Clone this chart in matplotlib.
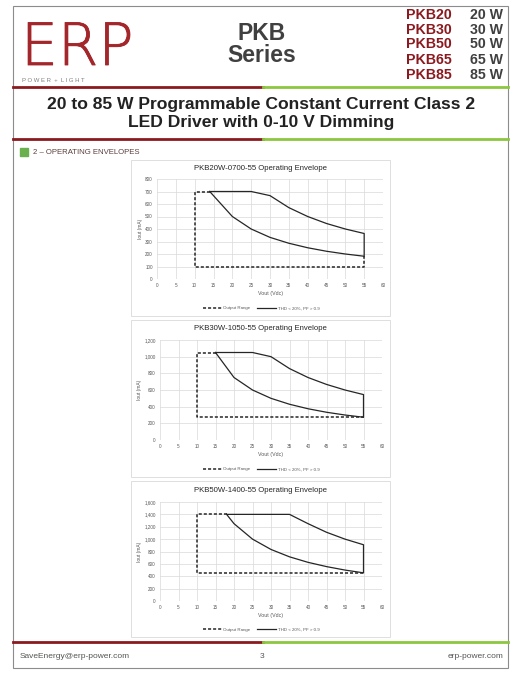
import matplotlib
matplotlib.use("Agg")
import matplotlib.pyplot as plt
import matplotlib.patches as patches
import matplotlib.patheffects as pe
from matplotlib.lines import Line2D
from matplotlib.ticker import FuncFormatter, MultipleLocator

plt.rcParams['font.family'] = ['Liberation Sans', 'DejaVu Sans']

W, H = 522, 676
RED = '#8b1a1f'
GREEN = '#8dc63f'
GRAY_TXT = '#595959'

# header data
models = ["PKB20", "PKB30", "PKB50", "PKB65", "PKB85"]
watts = ["20 W", "30 W", "50 W", "65 W", "85 W"]

# chart data
titles = ["PKB20W-0700-55 Operating Envelope",
          "PKB30W-1050-55 Operating Envelope",
          "PKB50W-1400-55 Operating Envelope"]

range_v_20 = [14, 10, 10, 55, 55]
range_i_20 = [700, 700, 100, 100, 182]
env_v_20 = [14, 20, 25, 30, 35, 40, 45, 50, 55, 55, 50, 45, 40, 35, 30, 25, 14]
env_i_20 = [700, 500, 400, 333, 286, 250, 222, 200, 182, 364, 400, 444, 500, 571, 667, 700, 700]

range_v_30 = [15, 10, 10, 55, 55]
range_i_30 = [1050, 1050, 273, 273, 273]
env_v_30 = [15, 20, 25, 30, 35, 40, 45, 50, 55, 55, 50, 45, 40, 35, 30, 25, 15]
env_i_30 = [1050, 750, 600, 500, 429, 375, 333, 300, 273, 545, 600, 667, 750, 857, 1000, 1050, 1050]

range_v_50 = [18, 10, 10, 55, 55]
range_i_50 = [1400, 1400, 455, 455, 455]
env_v_50 = [18, 20, 25, 30, 35, 40, 45, 50, 55, 55, 50, 45, 40, 35, 18]
env_i_50 = [1400, 1250, 1000, 833, 714, 625, 556, 500, 455, 909, 1000, 1111, 1250, 1400, 1400]

y_max = [800, 1200, 1600]
y_step = [100, 200, 200]
x_ticks = list(range(0, 61, 5))


def fx(x):
    return x / W


def fy(y):
    return 1 - y / H


fig = plt.figure(figsize=(W / 100, H / 100), dpi=100)

# page frame
fig.add_artist(patches.Rectangle((fx(13), fy(668)), fx(508) - fx(13), fy(6) - fy(668),
                                 transform=fig.transFigure, fill=False, edgecolor='#8c8c8c', lw=0.8))

# red / green rules
for y in [87, 139, 642]:
    fig.add_artist(Line2D([fx(13), fx(263)], [fy(y), fy(y)], color=RED, lw=2, transform=fig.transFigure))
    fig.add_artist(Line2D([fx(263), fx(508)], [fy(y), fy(y)], color=GREEN, lw=2, transform=fig.transFigure))

# logo
fig.text(fx(21), fy(65), "ERP", fontsize=42, color='#a3262b', fontweight='light',
         family=['DejaVu Sans'], va='baseline', ha='left',
         path_effects=[pe.withStroke(linewidth=0.6, foreground='#a3262b')])
fig.text(fx(22), fy(80), "P O W E R  +  L I G H T", fontsize=4.3, color='#7f7f7f', va='center', ha='left')

# header
fig.text(fx(262), fy(34), "PKB", fontsize=16.5, fontweight='bold', color='#404040', ha='center', va='center')
fig.text(fx(262), fy(56), "Series", fontsize=16.5, fontweight='bold', color='#404040', ha='center', va='center')
for i, (m, w) in enumerate(zip(models, watts)):
    yy = [15, 30, 44, 60, 75][i]
    fig.text(fx(406), fy(yy), m, fontsize=10.2, fontweight='bold', color=RED, ha='left', va='center')
    fig.text(fx(503), fy(yy), w, fontsize=10.2, fontweight='bold', color='#404040', ha='right', va='center')

fig.text(fx(261), fy(105), "20 to 85 W Programmable Constant Current Class 2",
         fontsize=12.6, fontweight='bold', color='#222222', ha='center', va='center')
fig.text(fx(261), fy(122), "LED Driver with 0-10 V Dimming",
         fontsize=12.6, fontweight='bold', color='#222222', ha='center', va='center')

# section header
fig.add_artist(patches.Rectangle((fx(20), fy(156)), fx(8), fy(0) - fy(8),
                                 transform=fig.transFigure, color='#6ab04c'))
fig.text(fx(33), fy(152), "2 \u2013 OPERATING ENVELOPES", fontsize=5.6, color='#5c3d3d', ha='left', va='center')

# chart boxes and plot areas
boxes = [(131, 160, 390, 316), (131, 320, 390, 477), (131, 481, 390, 637)]
areas = [(157, 179, 383, 279), (160, 340, 382, 440), (160, 502, 382, 601)]
ranges = [(range_v_20, range_i_20), (range_v_30, range_i_30), (range_v_50, range_i_50)]
envs = [(env_v_20, env_i_20), (env_v_30, env_i_30), (env_v_50, env_i_50)]

for k in range(3):
    bx0, by0, bx1, by1 = boxes[k]
    fig.add_artist(patches.Rectangle((fx(bx0), fy(by1)), fx(bx1 - bx0), fy(by0) - fy(by1),
                                     transform=fig.transFigure, fill=False, edgecolor='#d9d9d9', lw=0.6))
    x0, y0, x1, y1 = areas[k]
    ax = fig.add_axes([fx(x0), fy(y1), fx(x1 - x0), fy(y0) - fy(y1)])
    rv, ri = ranges[k]
    ev, ei = envs[k]
    ax.plot(rv, ri, color='#262626', lw=1.1, ls=(0, (2, 1.3)), label='Output Range')
    ax.plot(ev, ei, color='#262626', lw=0.9, label='THD < 20%, PF > 0.9')
    ax.set_xlim(0, 60)
    ax.set_ylim(0, y_max[k])
    ax.set_xticks(x_ticks)
    ax.yaxis.set_major_locator(MultipleLocator(y_step[k]))
    ax.yaxis.set_major_formatter(FuncFormatter(lambda v, p: f"{v:,.0f}"))
    ax.grid(True, color='#d9d9d9', lw=0.5)
    ax.set_axisbelow(True)
    for s in ax.spines.values():
        s.set_visible(False)
    ax.tick_params(length=0, labelsize=3.3, labelcolor=GRAY_TXT, pad=3)
    ax.set_xlabel("Vout (Vdc)", fontsize=3.8, color=GRAY_TXT, labelpad=2)
    ax.set_ylabel("Iout (mA)", fontsize=3.5, color=GRAY_TXT, labelpad=1.5)
    fig.text(fx(260), fy((by0 + 9)), titles[k], fontsize=5.6, color='#262626', ha='center', va='center')
    ax.legend(loc='center', bbox_to_anchor=((261 - x0) / (x1 - x0), -0.29), ncol=2, frameon=False,
              fontsize=3.2, labelcolor=GRAY_TXT, handlelength=4.3, columnspacing=1.6, handletextpad=0.3)

# footer
fig.text(fx(20), fy(657), "SaveEnergy@erp-power.com", fontsize=6, color='#555555', ha='left', va='center')
fig.text(fx(262), fy(657), "3", fontsize=6, color='#555555', ha='center', va='center')
fig.text(fx(503), fy(657), "erp-power.com", fontsize=6, color='#555555', ha='right', va='center')

fig.savefig("out.png", dpi=100)
